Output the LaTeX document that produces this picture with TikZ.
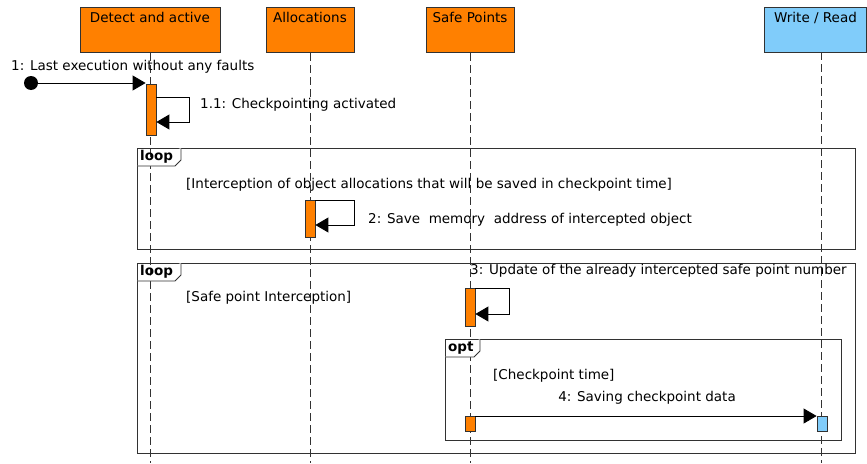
\documentclass[tikz,border=0pt]{standalone}
\usepackage{fontspec}
\setmainfont{DejaVu Sans}
\usepackage{tikz}
\usetikzlibrary{arrows.meta}

\definecolor{uorange}{RGB}{255,128,0}
\definecolor{ublue}{RGB}{128,204,250}
\definecolor{uline}{RGB}{50,50,50}

\begin{document}
\begin{tikzpicture}[x=1pt,y=-1pt,->,>={Triangle[length=13pt,width=15pt]}]
\tikzstyle{every node} = [font = \fontsize{13.5}{15}\selectfont, inner sep=0pt]
\tikzstyle{head} = [draw=uline, line width=1pt, fill=uorange, anchor=north, text height=15pt, text depth=30pt]
\tikzstyle{act} = [draw=uline, line width=0.8pt, fill=uorange, anchor=north, minimum width=10pt]
\tikzstyle{lifeline} = [-, line width=0.8pt, uline, dash pattern=on 8pt off 4pt]
\tikzstyle{frame} = [-, line width=0.9pt, uline]
\tikzstyle{msg} = [line width=0.9pt, black]
\tikzstyle{tab} = [font=\fontsize{13.5}{15}\selectfont\bfseries, anchor=west]
\useasboundingbox (0,0) rectangle (867,463);

	% lifeline heads
	\node [head, minimum width=140pt] (detect) at (150,7) {Detect and active};
	\node [head, minimum width=88pt] (alloc) at (310,7) {Allocations};
	\node [head, minimum width=88pt] (safe) at (470,7) {Safe Points};
	\node [head, minimum width=102pt, fill=ublue, anchor=north west] (rw) at (764,7) {Write / Read};
	\coordinate (rwline) at (821,52);

	\draw [lifeline] (detect.south) -- (detect.south |- 0,463);
	\draw [lifeline] (alloc.south) -- (alloc.south |- 0,463);
	\draw [lifeline] (safe.south) -- (safe.south |- 0,463);
	\draw [lifeline] (rwline) -- (rwline |- 0,463);

	% combined fragments
	\draw [frame] (137,148) rectangle (855,249);
	\draw [frame, fill=white] (137,166) -- (175,166) -- (181,160) -- (181,148);
	\node [tab] (loopa) at (140,157) {loop};
	\node [anchor=west] (guarda) at (186,185) {[Interception of object allocations that will be saved in checkpoint time]};

	\draw [frame] (137,263) rectangle (855,453);
	\draw [frame, fill=white] (137,281) -- (175,281) -- (181,275) -- (181,263);
	\node [tab] (loopb) at (140,272) {loop};
	\node [anchor=west] (guardb) at (186,298) {[Safe point Interception]};

	\draw [frame] (445,339) rectangle (841,440);
	\draw [frame, fill=white] (445,357) -- (474,357) -- (480,351) -- (480,339);
	\node [tab] (optc) at (448,348) {opt};
	\node [anchor=west] (guardc) at (493,376) {[Checkpoint time]};

	% 1
	\node [circle, fill=black, minimum size=14pt] (init) at (31,83) {};
	\node [act, minimum height=51pt] (a1) at (151,84) {};
	\draw [msg] (init.east) -- (init.east -| a1.west);
	\node [anchor=west] (m1) at (11,67) {1: Last execution without any faults};

	% 1.1
	\draw [msg] ([yshift=-13pt]a1.north east) -- ++(33,0) |- ([yshift=-38pt]a1.north east);
	\node [anchor=west] (m11) at (200,105) {1.1: Checkpointing activated};

	% 2
	\node [act, minimum height=37pt] (a2) at (310,200) {};
	\draw [msg] (a2.north east) -- ++(39,0) |- ([yshift=-25pt]a2.north east);
	\node [anchor=west] (m2) at (368,220) {2: Save\ \ memory\ \ address of intercepted object};

	% 3
	\node [act, minimum height=38pt] (a3) at (470,288) {};
	\draw [msg] (a3.north east) -- ++(34,0) |- ([yshift=-26pt]a3.north east);
	\node [anchor=west] (m3) at (470,271) {3: Update of the already intercepted safe point number};

	% 4
	\node [act, minimum height=15pt] (a4) at (470,416) {};
	\node [act, minimum height=15pt, fill=ublue] (b4) at (822,416) {};
	\draw [msg] (a4.north east) -- (b4.north west);
	\node (m4) at (647,398) {4: Saving checkpoint data};
\end{tikzpicture}
\end{document}
